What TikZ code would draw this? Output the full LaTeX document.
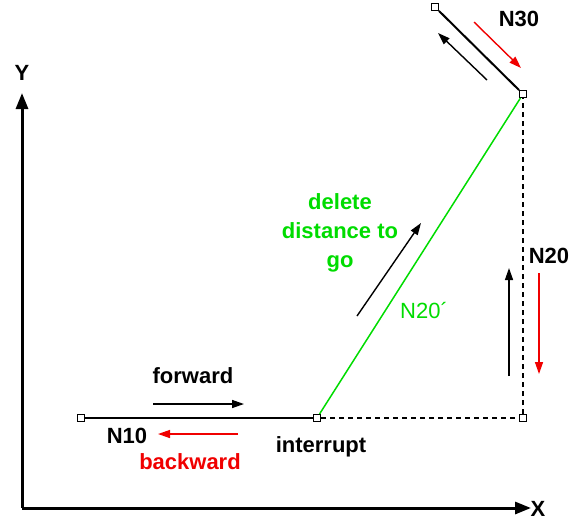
\documentclass[tikz,border=0pt]{standalone}
\usepackage{fontspec}
\setmainfont{Liberation Sans}
\usetikzlibrary{arrows.meta}
\definecolor{pathgreen}{RGB}{0,220,0}
\definecolor{backred}{RGB}{240,0,0}
\tikzset{
  pt/.style={draw=black,fill=white,line width=1pt,minimum size=7pt,inner sep=0pt},
  lbl/.style={font=\fontsize{22}{29}\selectfont\bfseries,inner sep=0pt,align=center},
  dir/.style={line width=1.4pt,-{Triangle[length=12pt,width=8pt]}},
}
\begin{document}
\begin{tikzpicture}[x=1pt,y=-1pt]
\useasboundingbox (0,0) rectangle (583,531);
% Achsen
\coordinate (o) at (22,508);
\coordinate (ytip) at (22,93);
\coordinate (xtip) at (531,508);
\draw[line width=3pt,-{Triangle[length=16pt,width=12pt]}] (o) -- (ytip);
\draw[line width=3pt,-{Triangle[length=16pt,width=12pt]}] (o) -- (xtip);
\node[lbl] (ylbl) at (22,73) {Y};
\node[lbl] (xlbl) at (538,509) {X};

% Satzpunkte
\node[pt] (p10) at (81,418) {};
\node[pt] (pint) at (317,418) {};
\node[pt] (pcorner) at (523,418) {};
\node[pt] (p20) at (523,94) {};
\node[pt] (p30) at (435,7) {};

% Bahnen
\draw[line width=2pt] (p10) -- (pint);
\draw[line width=1.5pt,dashed,dash pattern=on 5pt off 4pt] (pint) -- (pcorner) -- (p20);
\draw[line width=1.5pt,pathgreen] (pint) -- (p20);
\draw[line width=2pt] (p20) -- (p30);

% N10
\coordinate (fwa) at (153,404);
\coordinate (fwb) at (244,404);
\draw[dir] (fwa) -- (fwb);
\node[lbl] (fw) at (193,376) {forward};
\coordinate (bwa) at (238,434);
\coordinate (bwb) at (158,434);
\draw[dir,backred] (bwa) -- (bwb);
\node[lbl,backred] (bw) at (190,462) {backward};
\node[lbl] (n10) at (127,436) {N10};
\node[lbl] (int) at (321,447) {interrupt};

% N20'
\coordinate (dga) at (357,316);
\coordinate (dgb) at (421,223);
\draw[dir] (dga) -- (dgb);
\node[lbl,pathgreen] (del) at (340,233) {delete\\distance to\\go};
\node[lbl,pathgreen,font=\fontsize{22}{29}\selectfont] (n20s) at (424,310) {N20´};

% N20
\coordinate (upa) at (509,376);
\coordinate (upb) at (509,268);
\draw[dir] (upa) -- (upb);
\coordinate (dna) at (539,273);
\coordinate (dnb) at (539,374);
\draw[dir,backred] (dna) -- (dnb);
\node[lbl] (n20) at (549,256) {N20};

% N30
\coordinate (ra) at (474,22);
\coordinate (rb) at (521,68);
\draw[dir,backred] (ra) -- (rb);
\coordinate (ba) at (487,80);
\coordinate (bb) at (438,33);
\draw[dir] (ba) -- (bb);
\node[lbl] (n30) at (519,19) {N30};
\end{tikzpicture}
\end{document}
